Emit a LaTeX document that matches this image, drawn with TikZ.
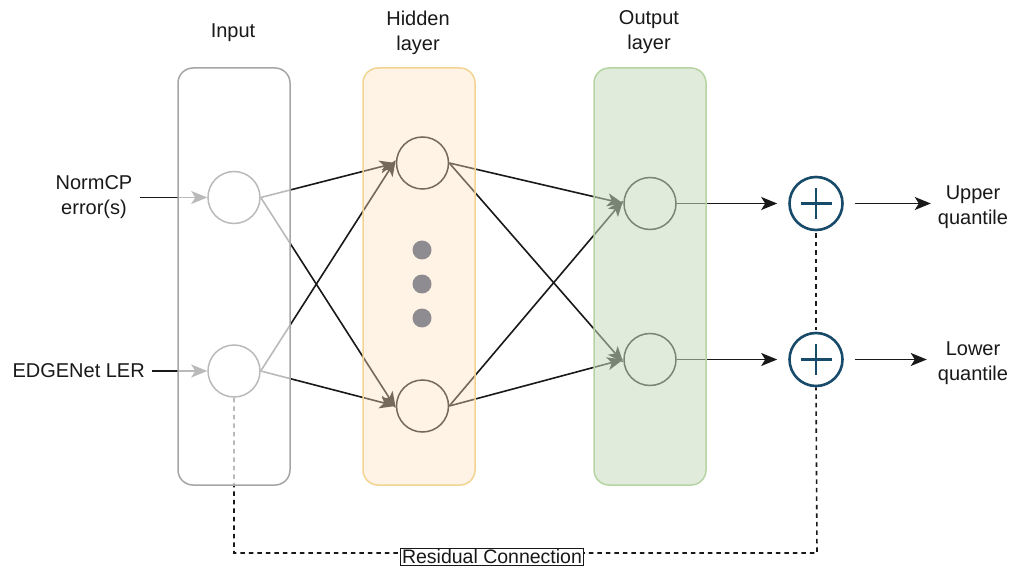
\documentclass[tikz,border=0pt]{standalone}
\usepackage{fontspec}
\setmainfont{Liberation Sans}
\usetikzlibrary{arrows.meta}
\definecolor{ink}{RGB}{25,25,25}
\definecolor{plusblue}{RGB}{24,74,106}
\definecolor{dotgray}{RGB}{142,140,144}
\definecolor{inborder}{RGB}{165,165,165}
\definecolor{hidfill}{RGB}{255,225,193}
\definecolor{hidborder}{RGB}{242,212,145}
\definecolor{outfill}{RGB}{200,220,191}
\definecolor{outborder}{RGB}{182,212,162}
\tikzset{
  neuron/.style={circle, draw=ink, line width=1.5pt, minimum size=52pt, inner sep=0pt},
  conn/.style={draw=ink, line width=1.6pt, -{Stealth[length=16pt,width=13pt,inset=4pt]}},
  dotnode/.style={circle, fill=dotgray, minimum size=19pt, inner sep=0pt},
  plusnode/.style={circle, draw=plusblue, line width=2.6pt, minimum size=53pt, inner sep=0pt},
  plusbar/.style={draw=plusblue, line width=2.6pt},
  layerbox/.style={rounded corners=15pt, minimum width=112pt, minimum height=417pt, line width=1.5pt, inner sep=0pt},
  lbl/.style={align=center, text=ink, inner sep=3pt, font=\fontsize{20}{25}\selectfont},
  resid/.style={draw=ink, line width=1.6pt, dash pattern=on 4.5pt off 4pt},
}
\begin{document}
\begin{tikzpicture}[x=1pt,y=-1pt]
\useasboundingbox (0,0) rectangle (1011,569);
\fill[white] (0,0) rectangle (1011,569);

% neurons
\node[neuron] (i1) at (234,197.5) {};
\node[neuron] (i2) at (234,371) {};
\node[neuron] (h1) at (422.5,163) {};
\node[neuron] (h2) at (422.5,406) {};
\node[neuron] (o1) at (650,203.5) {};
\node[neuron] (o2) at (650,359.5) {};

% plus nodes
\node[plusnode] (p1) at (816,203.5) {};
\node[plusnode] (p2) at (816,359.5) {};
\draw[plusbar] ([xshift=-15.5pt]p1.center) -- ([xshift=15.5pt]p1.center);
\draw[plusbar] ([yshift=-15.5pt]p1.center) -- ([yshift=15.5pt]p1.center);
\draw[plusbar] ([xshift=-15.5pt]p2.center) -- ([xshift=15.5pt]p2.center);
\draw[plusbar] ([yshift=-15.5pt]p2.center) -- ([yshift=15.5pt]p2.center);

% labels
\node[lbl] (tin) at (233,33) {Input};
\node[lbl] (thid) at (418,32.5) {Hidden\\layer};
\node[lbl] (tout) at (649,32.5) {Output\\layer};
\node[lbl] (lA) at (94,197.5) {NormCP\\error(s)};
\node[lbl, anchor=east] (lB) at (148,371) {EDGENet LER};
\node[lbl] (up) at (973,207) {Upper\\quantile};
\node[lbl] (lo) at (973,363) {Lower\\quantile};

% input arrows
\draw[conn, shorten <=4pt] (lA) -- (i1);
\draw[conn, shorten <=4pt] (lB) -- (i2);

% input -> hidden
\draw[conn] (i1.east) -- (h1.west);
\draw[conn] (i1.east) -- ([yshift=-2pt]h2.west);
\draw[conn] (i2.east) -- ([yshift=3pt]h1.west);
\draw[conn] (i2.east) -- (h2.west);
% hidden -> output
\draw[conn] (h1.east) -- (o1.west);
\draw[conn] (h1.east) -- ([yshift=-3pt]o2.west);
\draw[conn] (h2.east) -- ([yshift=3pt]o1.west);
\draw[conn] (h2.east) -- (o2.west);
% output -> plus
\draw[conn, shorten >=11pt] (o1) -- (p1);
\draw[conn, shorten >=11pt] (o2) -- (p2);
% plus -> outputs
\draw[conn, shorten <=11pt, shorten >=4pt] (p1.east) -- (p1.east -| up.west);
\draw[conn, shorten <=11pt, shorten >=8pt] (p2.east) -- (p2.east -| lo.west);

% residual connection
\coordinate (rA) at (234,553);
\coordinate (rB) at (817,553);
\draw[resid] (i2.south) -- (rA) -- (rB) -- (p2.south);
\draw[resid, shorten <=2pt, shorten >=2pt] (p1.south) -- (p2.north);

% layer boxes (translucent overlays)
\node[layerbox, draw=inborder, fill=white, fill opacity=0.7] (inbox) at (234,276.5) {};
\node[layerbox, draw=hidborder, fill=hidfill, fill opacity=0.4] (hidbox) at (419,276.5) {};
\node[layerbox, draw=outborder, fill=outfill, fill opacity=0.55] (outbox) at (650,276.5) {};

% ellipsis dots
\node[dotnode] (d1) at (422,250) {};
\node[dotnode] (d2) at (422,284) {};
\node[dotnode] (d3) at (422,318) {};

% residual label
\node[draw=ink, line width=0.8pt, fill=white, text=ink, inner sep=1.5pt, font=\fontsize{19.5}{23}\selectfont] (rl) at (492,557) {Residual Connection};
\end{tikzpicture}
\end{document}
